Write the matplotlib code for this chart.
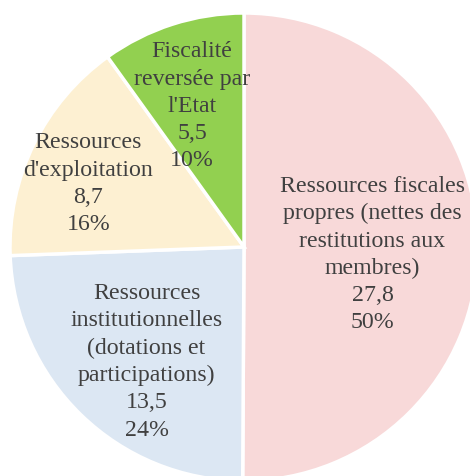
import numpy as np
import matplotlib.pyplot as plt

# data
labels = ["Ressources fiscales\npropres (nettes des\nrestitutions aux\nmembres)",
          "Ressources\ninstitutionnelles\n(dotations et\nparticipations)",
          "Ressources\nd'exploitation",
          "Fiscalité\nreversée par\nl'Etat"]
values = [27.8, 13.5, 8.7, 5.5]
colors = ["#F8D9D9", "#DCE7F3", "#FDF0D2", "#92D050"]

# label placement (radius fraction, angle nudge in degrees)
label_r = [0.55, 0.64, 0.72, 0.645]
label_nudge = [-2.8, 3.5, 3.7, 2.3]

plt.rcParams['font.family'] = ['Liberation Serif', 'DejaVu Serif']

W, H = 470, 477
cx, cy, R = 244, 248, 234

fig = plt.figure(figsize=(W / 100, H / 100), dpi=100)
ax = fig.add_axes([0, 0, 1, 1])
ax.axis('off')

wedges, _ = ax.pie(values, colors=colors, startangle=90, counterclock=False,
                   radius=1, wedgeprops=dict(edgecolor='white', linewidth=2.5))

ax.set_xlim(-cx / R, (W - cx) / R)
ax.set_ylim(-(H - cy) / R, cy / R)

total = sum(values)
for w, lab, v, r, dn in zip(wedges, labels, values, label_r, label_nudge):
    ang = np.deg2rad((w.theta1 + w.theta2) / 2 + dn)
    txt = "%s\n%s\n%d%%" % (lab, ("%.1f" % v).replace('.', ','), round(100 * v / total))
    ax.text(r * np.cos(ang), r * np.sin(ang), txt, ha='center', va='center',
            fontsize=17.2, color='#404040', linespacing=1.39)

fig.savefig("out.png", dpi=100)
